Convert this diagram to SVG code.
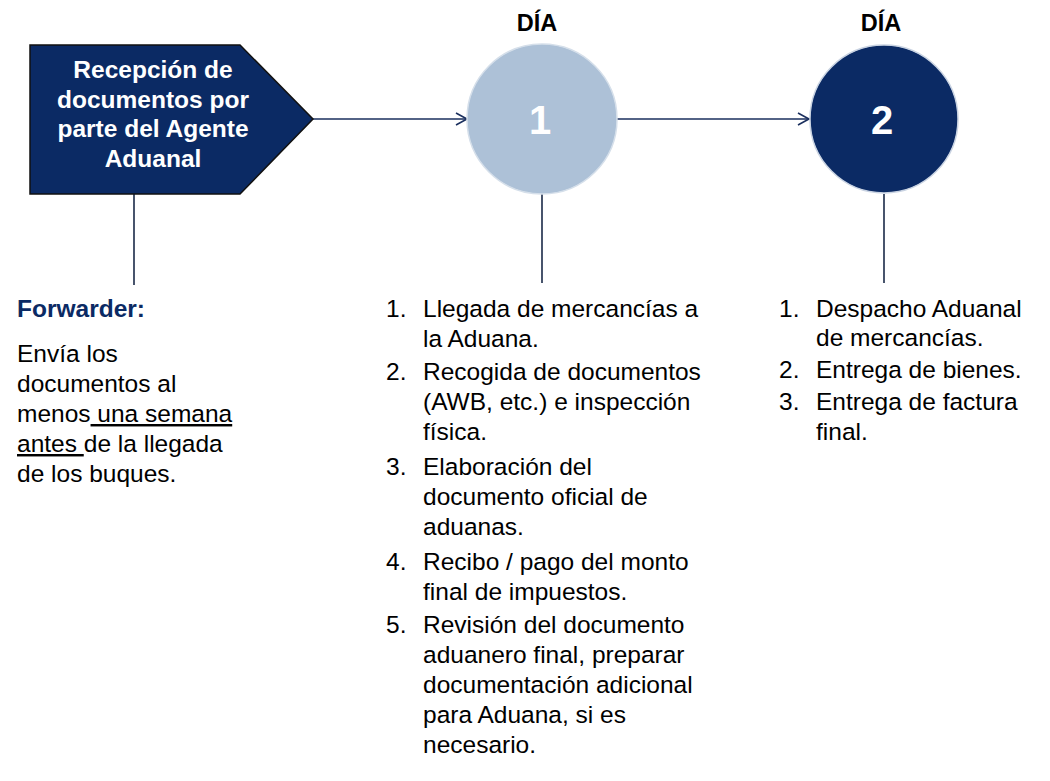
<svg xmlns="http://www.w3.org/2000/svg" width="1050" height="781" viewBox="0 0 1050 781">
<defs>
<style>
text{font-family:"Liberation Sans",Arial,sans-serif;}
.hdr{font-size:23.5px;font-weight:bold;fill:#000;text-anchor:middle;}
.box{font-size:24.5px;font-weight:bold;fill:#fff;text-anchor:middle;}
.num{font-size:40px;font-weight:bold;fill:#fff;text-anchor:middle;}
.body{font-size:24.5px;fill:#000;}
.fw{font-size:24.5px;font-weight:bold;fill:#0b2a64;}
.conn{stroke:#1a2f5e;stroke-width:1.6;fill:none;}
.vl{stroke:#1a2a48;stroke-width:1.6;fill:none;}
</style>
<marker id="arr" markerWidth="14" markerHeight="14" refX="12" refY="7" orient="auto" markerUnits="userSpaceOnUse">
<path d="M1,1 L12,7 L1,13" fill="none" stroke="#1a2f5e" stroke-width="1.6"/>
</marker>
</defs>
<rect width="1050" height="781" fill="#fff"/>
<g id="connectors">
<line class="conn" x1="313" y1="119" x2="467" y2="119" marker-end="url(#arr)"/>
<line class="conn" x1="617" y1="119" x2="809" y2="119" marker-end="url(#arr)"/>
<line class="vl" x1="134" y1="194" x2="134" y2="285"/>
<line class="vl" x1="542" y1="194" x2="542" y2="283"/>
<line class="vl" x1="884" y1="194" x2="884" y2="283"/>
</g>
<g id="node-recepcion">
<polygon points="30,45 240,45 313,119 240,194 30,194" fill="#0b2a64" stroke="#111" stroke-width="1.5"/>
<text class="box" x="153" y="78">Recepción de</text>
<text class="box" x="153" y="108">documentos por</text>
<text class="box" x="153" y="137">parte del Agente</text>
<text class="box" x="153" y="167">Aduanal</text>
</g>
<g id="node-dia1">
<text class="hdr" x="537" y="31">DÍA</text>
<circle cx="542" cy="119" r="75" fill="#adc1d7" stroke="#d5dfea" stroke-width="1.5"/>
<text class="num" x="540" y="134">1</text>
</g>
<g id="node-dia2">
<text class="hdr" x="881" y="31">DÍA</text>
<circle cx="884" cy="119" r="74" fill="#0b2a64" stroke="#c9d3e2" stroke-width="1.5"/>
<text class="num" x="882" y="134">2</text>
</g>
<g id="text-forwarder">
<text class="fw" x="17" y="317">Forwarder:</text>
<text class="body" x="17" y="362">Envía los</text>
<text class="body" x="17" y="392">documentos al</text>
<text class="body" x="17" y="422">menos<tspan text-decoration="underline"> una semana</tspan></text>
<text class="body" x="17" y="452"><tspan text-decoration="underline">antes </tspan>de la llegada</text>
<text class="body" x="17" y="482">de los buques.</text>
</g>
<g id="list-dia1">
<text class="body" x="386" y="317">1.</text>
<text class="body" x="423" y="317">Llegada de mercancías a</text>
<text class="body" x="423" y="347">la Aduana.</text>
<text class="body" x="386" y="380">2.</text>
<text class="body" x="423" y="380">Recogida de documentos</text>
<text class="body" x="423" y="410">(AWB, etc.) e inspección</text>
<text class="body" x="423" y="440">física.</text>
<text class="body" x="386" y="475">3.</text>
<text class="body" x="423" y="475">Elaboración del</text>
<text class="body" x="423" y="505">documento oficial de</text>
<text class="body" x="423" y="535">aduanas.</text>
<text class="body" x="386" y="570">4.</text>
<text class="body" x="423" y="570">Recibo / pago del monto</text>
<text class="body" x="423" y="600">final de impuestos.</text>
<text class="body" x="386" y="633">5.</text>
<text class="body" x="423" y="633">Revisión del documento</text>
<text class="body" x="423" y="663">aduanero final, preparar</text>
<text class="body" x="423" y="693">documentación adicional</text>
<text class="body" x="423" y="723">para Aduana, si es</text>
<text class="body" x="423" y="753">necesario.</text>
</g>
<g id="list-dia2">
<text class="body" x="779" y="317">1.</text>
<text class="body" x="816" y="317">Despacho Aduanal</text>
<text class="body" x="816" y="346">de mercancías.</text>
<text class="body" x="779" y="378">2.</text>
<text class="body" x="816" y="378">Entrega de bienes.</text>
<text class="body" x="779" y="410">3.</text>
<text class="body" x="816" y="410">Entrega de factura</text>
<text class="body" x="816" y="440">final.</text>
</g>
</svg>
